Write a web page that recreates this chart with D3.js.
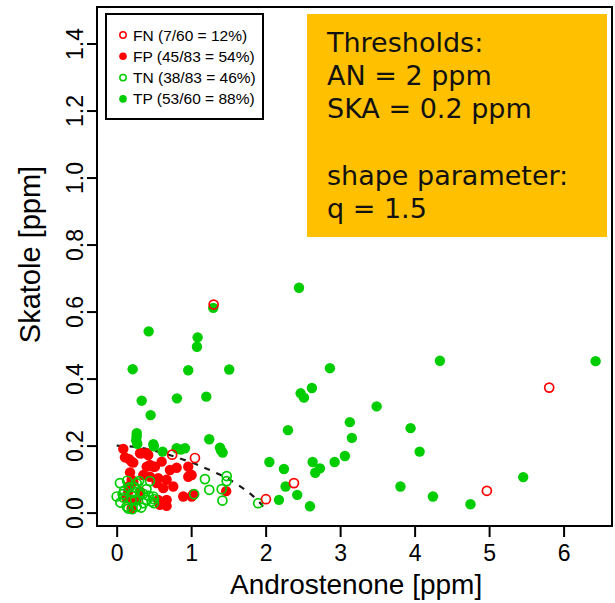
<!DOCTYPE html>
<html>
<head>
<meta charset="utf-8">
<script src="https://cdn.jsdelivr.net/npm/d3@7/dist/d3.min.js"></script>
<style>
  html, body { margin: 0; padding: 0; background: #fff; }
  svg { display: block; }
</style>
</head>
<body>
<svg id="chart" width="615" height="603"></svg>
<script>
// x = androstenone [ppm], y = skatole [ppm]
const tpPts = [
  [2.448, 0.671], [4.34, 0.453], [6.43, 0.452], [2.863, 0.431], [2.47, 0.356],
  [2.514, 0.343], [2.621, 0.372], [3.49, 0.317], [2.30, 0.246], [3.13, 0.270],
  [3.158, 0.223], [3.946, 0.252], [4.067, 0.182], [2.05, 0.151], [2.631, 0.151],
  [2.729, 0.132], [2.666, 0.119], [2.246, 0.130], [2.926, 0.151], [3.064, 0.169],
  [2.268, 0.078], [2.424, 0.053], [2.179, 0.038], [2.595, 0.019], [3.81, 0.078],
  [4.246, 0.048], [4.75, 0.025], [5.458, 0.106], [1.297, 0.611], [0.43, 0.541],
  [1.087, 0.523], [1.078, 0.495], [0.215, 0.428], [0.961, 0.425], [1.511, 0.427],
  [0.336, 0.334], [0.809, 0.341], [1.203, 0.346], [0.456, 0.291], [1.243, 0.219],
  [1.387, 0.194], [1.423, 0.179], [0.268, 0.227], [0.277, 0.205], [0.492, 0.204],
  [0.617, 0.182], [0.805, 0.192], [0.917, 0.192], [0.262, 0.216], [0.86, 0.188],
  [0.27, 0.237], [1.40, 0.186], [0.50, 0.198]
]
const fpPts = [
  [0.089, 0.190], [0.111, 0.165], [0.169, 0.159], [0.201, 0.152], [0.223, 0.149],
  [0.313, 0.177], [0.336, 0.177], [0.403, 0.177], [0.424, 0.172], [0.403, 0.137],
  [0.447, 0.142], [0.492, 0.137], [0.514, 0.137], [0.604, 0.152], [0.715, 0.127],
  [0.805, 0.134], [0.961, 0.137], [0.984, 0.112], [1.007, 0.112], [0.961, 0.107],
  [0.179, 0.120], [0.201, 0.098], [0.223, 0.092], [0.357, 0.112], [0.447, 0.107],
  [0.558, 0.103], [0.671, 0.098], [0.626, 0.073], [0.760, 0.078], [0.537, 0.088],
  [0.894, 0.048], [1.007, 0.048], [1.028, 0.055], [1.470, 0.064], [0.313, 0.063],
  [0.156, 0.063], [0.134, 0.043], [0.223, 0.038], [0.558, 0.038], [0.671, 0.038],
  [0.581, 0.023], [0.671, 0.020], [0.268, 0.038], [0.201, 0.013], [0.156, 0.078]
]
const tnPts = [
  [0.044, 0.088], [0.0, 0.048], [0.089, 0.045], [0.134, 0.018], [0.156, 0.012],
  [0.268, 0.088], [0.246, 0.038], [0.268, 0.018], [0.30, 0.094], [0.447, 0.094],
  [0.50, 0.040], [0.50, 0.028], [0.357, 0.056], [1.04, 0.055], [1.185, 0.100],
  [1.243, 0.068], [1.477, 0.109], [1.477, 0.094], [1.41, 0.070], [1.42, 0.036],
  [1.90, 0.028], [0.201, 0.038], [0.403, 0.038], [0.492, 0.048], [0.22, 0.058],
  [0.36, 0.028], [0.10, 0.065], [0.17, 0.075], [0.31, 0.060], [0.40, 0.070],
  [0.47, 0.033], [0.05, 0.030], [0.21, 0.010], [0.33, 0.015], [0.14, 0.095],
  [0.43, 0.050], [0.08, 0.055], [0.25, 0.075]
]
const fnPts = [
  [1.302, 0.621], [5.807, 0.373], [2.38, 0.088], [4.97, 0.065], [2.004, 0.040],
  [1.051, 0.163], [0.745, 0.173]
]

// threshold curve
const curvePts = [
  [0, 0.200], [0.25, 0.196], [0.5, 0.185], [0.75, 0.169], [1.0, 0.150],
  [1.25, 0.127], [1.5, 0.100], [1.75, 0.064], [1.9, 0.035], [1.97, 0.016], [2.0, 0.0]
]

const xTicks = [0, 1, 2, 3, 4, 5, 6]
const yTicks = [0, 0.2, 0.4, 0.6, 0.8, 1.0, 1.2, 1.4]

const legendItems = [
  { label: 'FN (7/60 = 12%)', color: '#ff0000', filled: false },
  { label: 'FP (45/83 = 54%)', color: '#ff0000', filled: true },
  { label: 'TN (38/83 = 46%)', color: '#00cd00', filled: false },
  { label: 'TP (53/60 = 88%)', color: '#00cd00', filled: true }
]

const noteLines = ['Thresholds:', 'AN = 2 ppm', 'SKA = 0.2 ppm', '', 'shape parameter:', 'q = 1.5']

const RED = '#ff0000'
const GREEN = '#00cd00'

const svg = d3.select('#chart')
const plot = { left: 97, right: 612, top: 7, bottom: 526 }

const x = d3.scaleLinear().domain([-0.264, 6.65]).range([plot.left, plot.right])
const y = d3.scaleLinear().domain([-0.040, 1.509]).range([plot.bottom, plot.top])

// axes
const xAxis = svg.append('g')
  .attr('transform', `translate(0,${plot.bottom})`)
  .call(d3.axisBottom(x).tickValues(xTicks).tickSize(11).tickSizeOuter(0).tickFormat(d3.format('d')))
xAxis.select('.domain').remove()
xAxis.selectAll('line').attr('stroke', '#000').attr('stroke-width', 2)
xAxis.selectAll('text')
  .attr('y', 35).attr('dy', 0)
  .attr('font-family', 'Liberation Sans, Arial, sans-serif')
  .attr('font-size', 23).attr('fill', '#000')

const yAxis = svg.append('g')
  .attr('transform', `translate(${plot.left},0)`)
  .call(d3.axisLeft(y).tickValues(yTicks).tickSize(10).tickSizeOuter(0).tickFormat(d3.format('.1f')))
yAxis.select('.domain').remove()
yAxis.selectAll('line').attr('stroke', '#000').attr('stroke-width', 2)
yAxis.selectAll('text')
  .attr('transform', 'rotate(-90)')
  .attr('x', 0).attr('y', -14).attr('dy', 0)
  .attr('text-anchor', 'middle')
  .attr('font-family', 'Liberation Sans, Arial, sans-serif')
  .attr('font-size', 23).attr('fill', '#000')

// axis titles
svg.append('text')
  .attr('x', (x(0) + x(6)) / 2 + 16).attr('y', 594)
  .attr('text-anchor', 'middle')
  .attr('font-family', 'Liberation Sans, Arial, sans-serif')
  .attr('font-size', 28)
  .text('Androstenone [ppm]')

svg.append('text')
  .attr('transform', `translate(40,${(plot.top + plot.bottom) / 2 - 12}) rotate(-90)`)
  .attr('text-anchor', 'middle')
  .attr('font-family', 'Liberation Sans, Arial, sans-serif')
  .attr('font-size', 29)
  .text('Skatole [ppm]')

// threshold curve
svg.append('path')
  .datum(curvePts)
  .attr('d', d3.line().x(d => x(d[0])).y(d => y(d[1])).curve(d3.curveCatmullRom))
  .attr('fill', 'none')
  .attr('stroke', '#1a1a1a')
  .attr('stroke-width', 2.2)
  .attr('stroke-dasharray', '6,7')

// points
const r = 5.2
function drawPts(pts, color, filled) {
  svg.append('g').selectAll('circle')
    .data(pts)
    .enter()
    .append('circle')
    .attr('cx', d => x(d[0]))
    .attr('cy', d => y(d[1]))
    .attr('r', filled ? r : r - 0.7)
    .attr('fill', filled ? color : 'none')
    .attr('stroke', color)
    .attr('stroke-width', filled ? 0 : 1.7)
}
drawPts(fpPts, RED, true)
drawPts(tpPts, GREEN, true)
drawPts(tnPts, GREEN, false)
drawPts(fnPts, RED, false)

// frame
svg.append('rect')
  .attr('x', plot.left).attr('y', plot.top)
  .attr('width', plot.right - plot.left).attr('height', plot.bottom - plot.top)
  .attr('fill', 'none').attr('stroke', '#000').attr('stroke-width', 2)

// legend
const lg = svg.append('g')
lg.append('rect')
  .attr('x', 106).attr('y', 14).attr('width', 157).attr('height', 105)
  .attr('fill', '#fff').attr('stroke', '#000').attr('stroke-width', 2)
legendItems.forEach((it, i) => {
  const cy = 35 + i * 21.3
  lg.append('circle')
    .attr('cx', 123).attr('cy', cy).attr('r', it.filled ? 3.8 : 3.2)
    .attr('fill', it.filled ? it.color : 'none')
    .attr('stroke', it.color).attr('stroke-width', it.filled ? 0 : 1.5)
  lg.append('text')
    .attr('x', 133).attr('y', cy + 5.5)
    .attr('font-family', 'Liberation Sans, Arial, sans-serif')
    .attr('font-size', 15.5)
    .text(it.label)
})

// annotation box
const note = svg.append('g')
note.append('rect')
  .attr('x', 307).attr('y', 14).attr('width', 300).attr('height', 223)
  .attr('fill', '#ffc000')
noteLines.forEach((t, i) => {
  if (!t) return
  note.append('text')
    .attr('x', 327).attr('y', 51.5 + i * 33.3)
    .attr('font-family', 'DejaVu Sans, sans-serif')
    .attr('font-size', 27)
    .attr('fill', '#111')
    .text(t)
})
</script>
</body>
</html>
